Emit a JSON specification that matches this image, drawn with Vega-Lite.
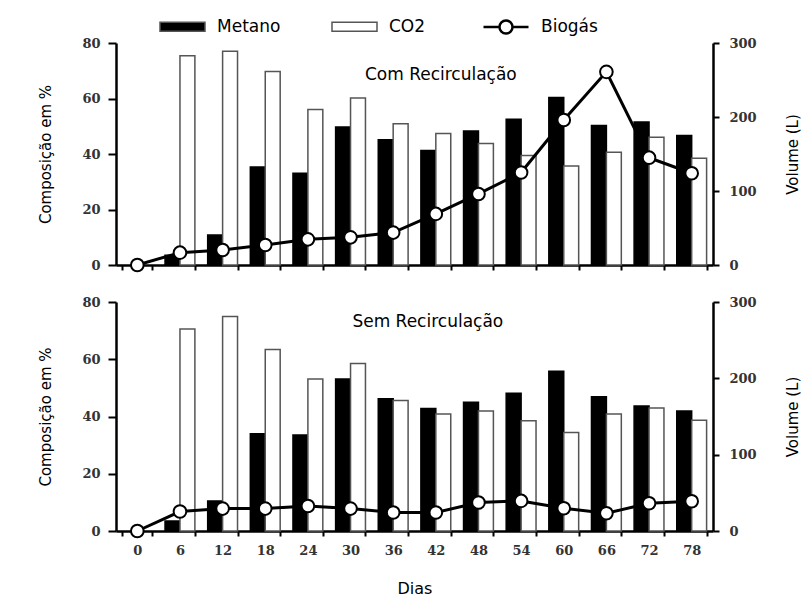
{
  "$schema": "https://vega.github.io/schema/vega-lite/v6.json",
  "padding": {"left": 38, "top": 3, "right": 5, "bottom": 5},
  "background": "white",
  "datasets": {
    "com_gas": [
      {"dia": 6, "serie": "Metano", "valor": 3.5}, {"dia": 6, "serie": "CO2", "valor": 75.4},
      {"dia": 12, "serie": "Metano", "valor": 10.8}, {"dia": 12, "serie": "CO2", "valor": 77.0},
      {"dia": 18, "serie": "Metano", "valor": 35.3}, {"dia": 18, "serie": "CO2", "valor": 69.7},
      {"dia": 24, "serie": "Metano", "valor": 33.1}, {"dia": 24, "serie": "CO2", "valor": 56.0},
      {"dia": 30, "serie": "Metano", "valor": 49.7}, {"dia": 30, "serie": "CO2", "valor": 60.2},
      {"dia": 36, "serie": "Metano", "valor": 45.1}, {"dia": 36, "serie": "CO2", "valor": 50.9},
      {"dia": 42, "serie": "Metano", "valor": 41.3}, {"dia": 42, "serie": "CO2", "valor": 47.4},
      {"dia": 48, "serie": "Metano", "valor": 48.3}, {"dia": 48, "serie": "CO2", "valor": 43.8},
      {"dia": 54, "serie": "Metano", "valor": 52.5}, {"dia": 54, "serie": "CO2", "valor": 39.5},
      {"dia": 60, "serie": "Metano", "valor": 60.4}, {"dia": 60, "serie": "CO2", "valor": 35.7},
      {"dia": 66, "serie": "Metano", "valor": 50.3}, {"dia": 66, "serie": "CO2", "valor": 40.6},
      {"dia": 72, "serie": "Metano", "valor": 51.5}, {"dia": 72, "serie": "CO2", "valor": 46.0},
      {"dia": 78, "serie": "Metano", "valor": 46.7}, {"dia": 78, "serie": "CO2", "valor": 38.5}
    ],
    "com_bio": [
      {"dia": 0, "serie": "Biogás", "valor": 0}, {"dia": 6, "serie": "Biogás", "valor": 16.7},
      {"dia": 12, "serie": "Biogás", "valor": 20.3}, {"dia": 18, "serie": "Biogás", "valor": 27},
      {"dia": 24, "serie": "Biogás", "valor": 34.7}, {"dia": 30, "serie": "Biogás", "valor": 37.4},
      {"dia": 36, "serie": "Biogás", "valor": 43.8}, {"dia": 42, "serie": "Biogás", "valor": 69},
      {"dia": 48, "serie": "Biogás", "valor": 96}, {"dia": 54, "serie": "Biogás", "valor": 125},
      {"dia": 60, "serie": "Biogás", "valor": 196}, {"dia": 66, "serie": "Biogás", "valor": 261},
      {"dia": 72, "serie": "Biogás", "valor": 145}, {"dia": 78, "serie": "Biogás", "valor": 124}
    ],
    "sem_gas": [
      {"dia": 6, "serie": "Metano", "valor": 3.5}, {"dia": 6, "serie": "CO2", "valor": 70.6},
      {"dia": 12, "serie": "Metano", "valor": 10.5}, {"dia": 12, "serie": "CO2", "valor": 74.9},
      {"dia": 18, "serie": "Metano", "valor": 34.0}, {"dia": 18, "serie": "CO2", "valor": 63.4},
      {"dia": 24, "serie": "Metano", "valor": 33.5}, {"dia": 24, "serie": "CO2", "valor": 53.1},
      {"dia": 30, "serie": "Metano", "valor": 53.1}, {"dia": 30, "serie": "CO2", "valor": 58.5},
      {"dia": 36, "serie": "Metano", "valor": 46.2}, {"dia": 36, "serie": "CO2", "valor": 45.6},
      {"dia": 42, "serie": "Metano", "valor": 42.8}, {"dia": 42, "serie": "CO2", "valor": 40.9},
      {"dia": 48, "serie": "Metano", "valor": 45.0}, {"dia": 48, "serie": "CO2", "valor": 41.9},
      {"dia": 54, "serie": "Metano", "valor": 48.1}, {"dia": 54, "serie": "CO2", "valor": 38.5},
      {"dia": 60, "serie": "Metano", "valor": 55.8}, {"dia": 60, "serie": "CO2", "valor": 34.4},
      {"dia": 66, "serie": "Metano", "valor": 46.9}, {"dia": 66, "serie": "CO2", "valor": 40.9},
      {"dia": 72, "serie": "Metano", "valor": 43.7}, {"dia": 72, "serie": "CO2", "valor": 43.0},
      {"dia": 78, "serie": "Metano", "valor": 41.9}, {"dia": 78, "serie": "CO2", "valor": 38.7}
    ],
    "sem_bio": [
      {"dia": 0, "serie": "Biogás", "valor": 0}, {"dia": 6, "serie": "Biogás", "valor": 25.5},
      {"dia": 12, "serie": "Biogás", "valor": 29.4}, {"dia": 18, "serie": "Biogás", "valor": 29.4},
      {"dia": 24, "serie": "Biogás", "valor": 32.8}, {"dia": 30, "serie": "Biogás", "valor": 29.4},
      {"dia": 36, "serie": "Biogás", "valor": 24.2}, {"dia": 42, "serie": "Biogás", "valor": 24.2},
      {"dia": 48, "serie": "Biogás", "valor": 37.3}, {"dia": 54, "serie": "Biogás", "valor": 39.4},
      {"dia": 60, "serie": "Biogás", "valor": 29.8}, {"dia": 66, "serie": "Biogás", "valor": 23.2},
      {"dia": 72, "serie": "Biogás", "valor": 36.4}, {"dia": 78, "serie": "Biogás", "valor": 39}
    ],
    "rot_com": [{"dia": 42, "valor": 68.6, "texto": "Com Recirculação"}],
    "rot_sem": [{"dia": 42, "valor": 73, "texto": "Sem Recirculação"}]
  },
  "config": {
    "view": {"stroke": null},
    "axis": {
      "grid": false,
      "domainColor": "black", "domainWidth": 2.5,
      "tickColor": "black", "tickWidth": 2,
      "labelFont": "DejaVu Serif", "labelFontWeight": "bold", "labelFontSize": 13, "labelColor": "#333",
      "titleFont": "DejaVu Sans", "titleFontWeight": "normal", "titleFontSize": 15, "titleColor": "black"
    },
    "legend": {
      "symbolSize": 2025, "padding": 0,
      "labelFont": "DejaVu Sans", "labelFontSize": 17, "labelColor": "black", "labelOffset": 11,
      "columnPadding": 48
    }
  },
  "spacing": 20,
  "resolve": {"scale": {"fill": "independent", "stroke": "independent"}, "legend": {"fill": "independent", "stroke": "independent"}},
  "vconcat": [
    {
      "width": 597, "height": 222,
      "resolve": {"scale": {"y": "independent"}},
      "layer": [
        {
          "layer": [
            {
              "data": {"name": "com_gas"},
              "mark": {"type": "bar", "strokeWidth": 1.5},
              "encoding": {
                "x": {"field": "dia", "type": "ordinal",
                  "scale": {"domain": [0, 6, 12, 18, 24, 30, 36, 42, 48, 54, 60, 66, 72, 78], "paddingInner": 0.3, "paddingOuter": 0.15},
                  "axis": {"labels": false, "title": null, "tickBand": "extent", "tickSize": 5}},
                "xOffset": {"field": "serie", "type": "nominal", "scale": {"domain": ["Metano", "CO2"]}},
                "y": {"field": "valor", "type": "quantitative", "scale": {"domain": [0, 80], "nice": false},
                  "axis": {"values": [0, 20, 40, 60, 80], "title": "Composição em %", "tickSize": 8, "labelPadding": 8, "titlePadding": 28}},
                "fill": {"field": "serie", "type": "nominal",
                  "scale": {"domain": ["Metano", "CO2"], "range": ["black", "white"]},
                  "legend": {
                    "orient": "none", "legendX": 43, "legendY": -40, "direction": "horizontal", "title": null,
                    "symbolType": "M-1,-0.2H1V0.2H-1Z", "symbolStrokeColor": "#555", "symbolStrokeWidth": 1.5
                  }},
                "stroke": {"condition": {"test": "datum.serie === 'CO2'", "value": "#555"}, "value": "black"}
              }
            },
            {
              "data": {"name": "rot_com"},
              "mark": {"type": "text", "font": "DejaVu Sans", "fontSize": 17, "color": "black", "dx": 5},
              "encoding": {
                "x": {"field": "dia", "type": "ordinal"},
                "y": {"field": "valor", "type": "quantitative"},
                "text": {"field": "texto"}
              }
            }
          ]
        },
        {
          "data": {"name": "com_bio"},
          "encoding": {
            "x": {"field": "dia", "type": "ordinal"},
            "y": {"field": "valor", "type": "quantitative", "scale": {"domain": [0, 300], "nice": false},
              "axis": {"orient": "right", "values": [0, 100, 200, 300], "title": "Volume (L)", "titleAngle": 270, "tickSize": 6, "labelPadding": 10, "titlePadding": 44}}
          },
          "layer": [
            {"mark": {"type": "line", "strokeWidth": 3},
              "encoding": {"stroke": {"field": "serie", "type": "nominal",
                "scale": {"domain": ["Biogás"], "range": ["black"]},
                "legend": {
                  "orient": "none", "legendX": 366, "legendY": -40, "title": null,
                  "symbolType": "M-1,0H-0.29M0.29,0H1M-0.29,0A0.29,0.29 0 1,1 0.29,0A0.29,0.29 0 1,1 -0.29,0Z",
                  "symbolStrokeWidth": 2.5, "symbolFillColor": "white"
                }}}},
            {"mark": {"type": "point", "filled": true, "fill": "white", "stroke": "black", "strokeWidth": 2, "size": 160, "opacity": 1}}
          ]
        }
      ]
    },
    {
      "width": 597, "height": 229,
      "resolve": {"scale": {"y": "independent"}},
      "layer": [
        {
          "layer": [
            {
              "data": {"name": "sem_gas"},
              "mark": {"type": "bar", "strokeWidth": 1.5},
              "encoding": {
                "x": {"field": "dia", "type": "ordinal",
                  "scale": {"domain": [0, 6, 12, 18, 24, 30, 36, 42, 48, 54, 60, 66, 72, 78], "paddingInner": 0.3, "paddingOuter": 0.15},
                  "axis": {"title": "Dias", "labelAngle": 0, "tickBand": "extent", "tickSize": 5, "labelPadding": 8, "titlePadding": 23, "titleFontSize": 16}},
                "xOffset": {"field": "serie", "type": "nominal", "scale": {"domain": ["Metano", "CO2"]}},
                "y": {"field": "valor", "type": "quantitative", "scale": {"domain": [0, 80], "nice": false},
                  "axis": {"values": [0, 20, 40, 60, 80], "title": "Composição em %", "tickSize": 8, "labelPadding": 8, "titlePadding": 28}},
                "fill": {"field": "serie", "type": "nominal",
                  "scale": {"domain": ["Metano", "CO2"], "range": ["black", "white"]},
                  "legend": null},
                "stroke": {"condition": {"test": "datum.serie === 'CO2'", "value": "#555"}, "value": "black"}
              }
            },
            {
              "data": {"name": "rot_sem"},
              "mark": {"type": "text", "font": "DejaVu Sans", "fontSize": 17, "color": "black", "dx": -8},
              "encoding": {
                "x": {"field": "dia", "type": "ordinal"},
                "y": {"field": "valor", "type": "quantitative"},
                "text": {"field": "texto"}
              }
            }
          ]
        },
        {
          "data": {"name": "sem_bio"},
          "encoding": {
            "x": {"field": "dia", "type": "ordinal"},
            "y": {"field": "valor", "type": "quantitative", "scale": {"domain": [0, 300], "nice": false},
              "axis": {"orient": "right", "values": [0, 100, 200, 300], "title": "Volume (L)", "titleAngle": 270, "tickSize": 6, "labelPadding": 10, "titlePadding": 44}}
          },
          "layer": [
            {"mark": {"type": "line", "color": "black", "strokeWidth": 3}},
            {"mark": {"type": "point", "filled": true, "fill": "white", "stroke": "black", "strokeWidth": 2, "size": 160, "opacity": 1}}
          ]
        }
      ]
    }
  ]
}
